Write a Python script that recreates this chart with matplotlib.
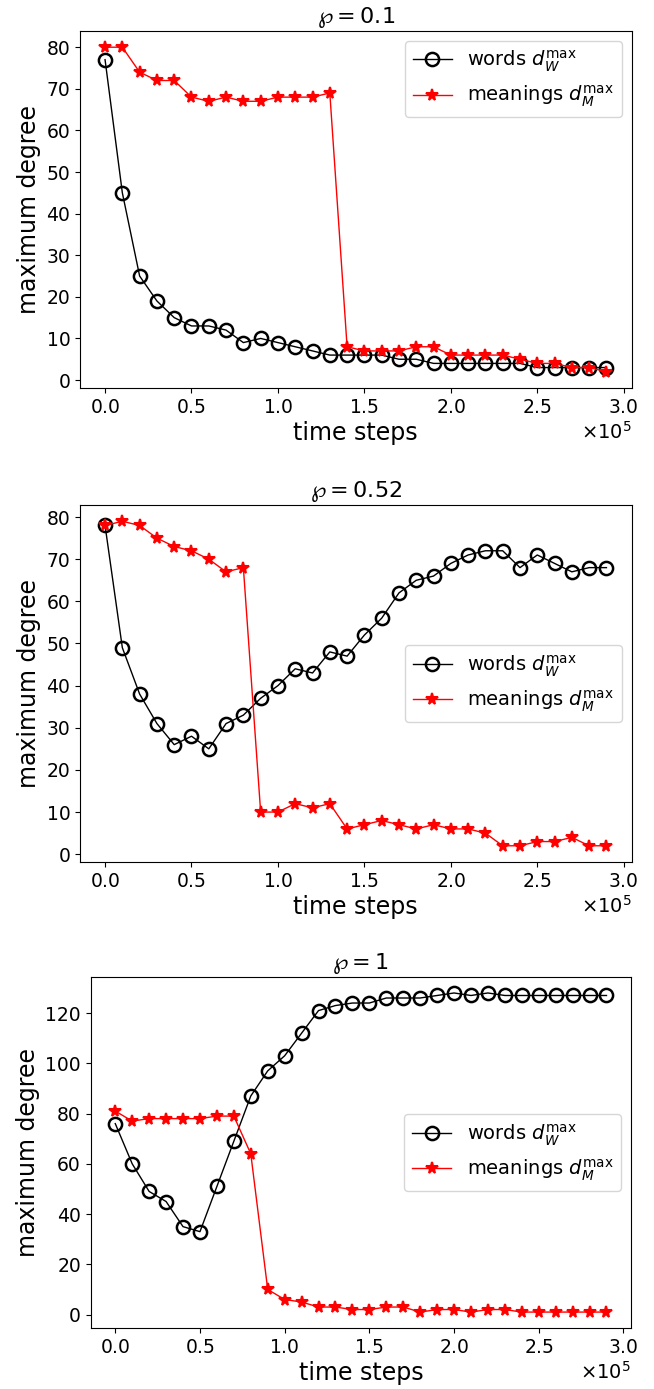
import numpy as np
import matplotlib
matplotlib.use("Agg")
import matplotlib.pyplot as plt

# time steps (x 1e5 offset shown by the formatter)
steps = np.arange(30) * 1e4

# p = 0.1
words_01 = [77, 45, 25, 19, 15, 13, 13, 12, 9, 10, 9, 8, 7, 6, 6,
            6, 6, 5, 5, 4, 4, 4, 4, 4, 4, 3, 3, 3, 3, 3]
meanings_01 = [80, 80, 74, 72, 72, 68, 67, 68, 67, 67, 68, 68, 68, 69, 8,
               7, 7, 7, 8, 8, 6, 6, 6, 6, 5, 4, 4, 3, 3, 2]

# p = 0.52
words_052 = [78, 49, 38, 31, 26, 28, 25, 31, 33, 37, 40, 44, 43, 48, 47,
             52, 56, 62, 65, 66, 69, 71, 72, 72, 68, 71, 69, 67, 68, 68]
meanings_052 = [78, 79, 78, 75, 73, 72, 70, 67, 68, 10, 10, 12, 11, 12, 6,
                7, 8, 7, 6, 7, 6, 6, 5, 2, 2, 3, 3, 4, 2, 2]

# p = 1
words_1 = [76, 60, 49, 45, 35, 33, 51, 69, 87, 97, 103, 112, 121, 123, 124,
           124, 126, 126, 126, 127, 128, 127, 128, 127, 127, 127, 127, 127, 127, 127]
meanings_1 = [81, 77, 78, 78, 78, 78, 79, 79, 64, 10, 6, 5, 3, 3, 2,
              2, 3, 3, 1, 2, 2, 1, 2, 2, 1, 1, 1, 1, 1, 1]

panels = [
    (r'$\wp=0.1$', words_01, meanings_01, [0.1223, 0.7207, 0.8433, 0.257], 'upper right'),
    (r'$\wp=0.52$', words_052, meanings_052, [0.1223, 0.3794, 0.8433, 0.257], 'center right'),
    (r'$\wp=1$', words_1, meanings_1, [0.1387, 0.0439, 0.8262, 0.2527], 'center right'),
]

fig = plt.figure(figsize=(6.54, 13.89), dpi=100)

for title, words, meanings, rect, loc in panels:
    ax = fig.add_axes(rect)
    ax.plot(steps, words, color='black', marker='o', markersize=9.5, mfc='none',
            mew=1.8, linewidth=1.0, label=r'words $d_W^{\max}$')
    ax.plot(steps, meanings, color='red', marker='*', markersize=8.5,
            mew=1.5, linewidth=1.0, label=r'meanings $d_M^{\max}$')
    ax.set_title(title, fontsize=16)
    ax.set_xlabel('time steps', fontsize=17, labelpad=3)
    ax.set_ylabel('maximum degree', fontsize=17)
    ax.tick_params(labelsize=13.5)
    ax.ticklabel_format(axis='x', style='sci', scilimits=(0, 0), useMathText=True)
    ax.xaxis.get_offset_text().set_fontsize(14)
    ax.set_xticks(np.arange(0, 3.01e5, 0.5e5))
    ax.legend(loc=loc, fontsize=14)

fig.savefig('out.png', dpi=100)
